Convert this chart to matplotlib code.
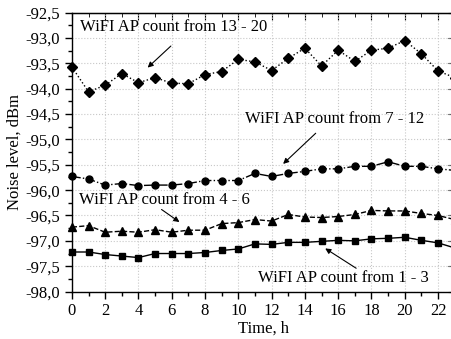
"""Noise level vs time of day for different WiFi AP counts."""

import matplotlib
matplotlib.use("Agg")
import matplotlib.pyplot as plt
from matplotlib.ticker import MultipleLocator, FuncFormatter

hours = list(range(24))

noise_13_20 = [-93.57, -94.06, -93.93, -93.70, -93.88, -93.78, -93.89, -93.90, -93.72, -93.66,
               -93.42, -93.47, -93.64, -93.40, -93.20, -93.55, -93.24, -93.46, -93.24, -93.20,
               -93.05, -93.31, -93.65, -93.78]
noise_7_12 = [-95.73, -95.78, -95.90, -95.87, -95.91, -95.90, -95.90, -95.87, -95.81, -95.81,
              -95.81, -95.67, -95.73, -95.67, -95.63, -95.58, -95.58, -95.53, -95.53, -95.44,
              -95.53, -95.53, -95.58, -95.61]
noise_4_6 = [-96.73, -96.70, -96.83, -96.81, -96.83, -96.78, -96.83, -96.79, -96.79, -96.66,
             -96.64, -96.58, -96.61, -96.48, -96.53, -96.54, -96.52, -96.48, -96.40, -96.41,
             -96.41, -96.46, -96.50, -96.58]
noise_1_3 = [-97.22, -97.22, -97.27, -97.30, -97.33, -97.25, -97.25, -97.25, -97.23, -97.19,
             -97.16, -97.06, -97.07, -97.03, -97.03, -97.01, -96.99, -97.00, -96.96, -96.95,
             -96.93, -96.99, -97.04, -97.14]

labels = ["WiFI AP count from 13 - 20", "WiFI AP count from 7 - 12",
          "WiFI AP count from 4 - 6", "WiFI AP count from 1 - 3"]

plt.rcParams["font.family"] = ["Liberation Serif", "DejaVu Serif"]
plt.rcParams["font.size"] = 12

fig = plt.figure(figsize=(4.52, 3.39), dpi=100)
ax = fig.add_axes([0.159, 0.140, 0.847, 0.8225])

ax.plot(hours, noise_13_20, ls=":", color="black", lw=1, marker="D", ms=5, clip_on=False)
ax.plot(hours, noise_7_12, ls="-.", color="black", lw=1, marker="o", ms=5, clip_on=False)
ax.plot(hours, noise_4_6, ls="--", color="black", lw=1, marker="^", ms=6, clip_on=False)
ax.plot(hours, noise_1_3, ls="-", color="black", lw=1, marker="s", ms=5, clip_on=False)

ax.set_xlim(0, 23)
ax.set_ylim(-98.0, -92.5)
ax.xaxis.set_major_locator(MultipleLocator(2))
ax.xaxis.set_minor_locator(MultipleLocator(1))
ax.yaxis.set_major_locator(MultipleLocator(0.5))
ax.yaxis.set_minor_locator(MultipleLocator(0.25))
ax.yaxis.set_major_formatter(FuncFormatter(lambda v, p: f"{v:.1f}".replace(".", ",")))

ax.tick_params(which="both", direction="out", top=False, right=False)
ax.tick_params(which="major", length=5, width=1)
ax.tick_params(which="minor", length=3, width=1)
ax2 = ax.secondary_xaxis("top")
ax2.set_xticks(range(0, 24, 2))
ax2.set_xticks(range(1, 24, 2), minor=True)
ax2.tick_params(which="both", direction="in", labeltop=False)
ax2.tick_params(which="major", length=5)
ax2.tick_params(which="minor", length=3)
ay2 = ax.secondary_yaxis("right")
ay2.yaxis.set_major_locator(MultipleLocator(0.5))
ay2.yaxis.set_minor_locator(MultipleLocator(0.25))
ay2.tick_params(which="both", direction="in", labelright=False)
ay2.tick_params(which="major", length=5)
ay2.tick_params(which="minor", length=3)

ax.grid(True, which="major", color="#c8c8c8", ls=":", lw=0.8)
for s in ax.spines.values():
    s.set_linewidth(1)

ax.set_xlabel("Time, h", labelpad=1)
ax.set_ylabel("Noise level, dBm", labelpad=2)

# labels and arrows
ax.text(0.48, -92.78, labels[0], ha="left", va="center")
ax.annotate("", xy=(4.43, -93.62), xytext=(6.07, -93.12),
            arrowprops=dict(arrowstyle="-|>", color="black", lw=0.8, mutation_scale=8))
ax.text(10.4, -94.60, labels[1], ha="left", va="center")
ax.annotate("", xy=(12.57, -95.52), xytext=(14.77, -94.84),
            arrowprops=dict(arrowstyle="-|>", color="black", lw=0.8, mutation_scale=8))
ax.text(0.42, -96.19, labels[2], ha="left", va="center")
ax.annotate("", xy=(6.6, -96.66), xytext=(5.25, -96.35),
            arrowprops=dict(arrowstyle="-|>", color="black", lw=0.8, mutation_scale=8))
ax.text(11.2, -97.73, labels[3], ha="left", va="center")
ax.annotate("", xy=(15.08, -97.12), xytext=(17.22, -97.57),
            arrowprops=dict(arrowstyle="-|>", color="black", lw=0.8, mutation_scale=8))

plt.savefig("out.png", dpi=100)
